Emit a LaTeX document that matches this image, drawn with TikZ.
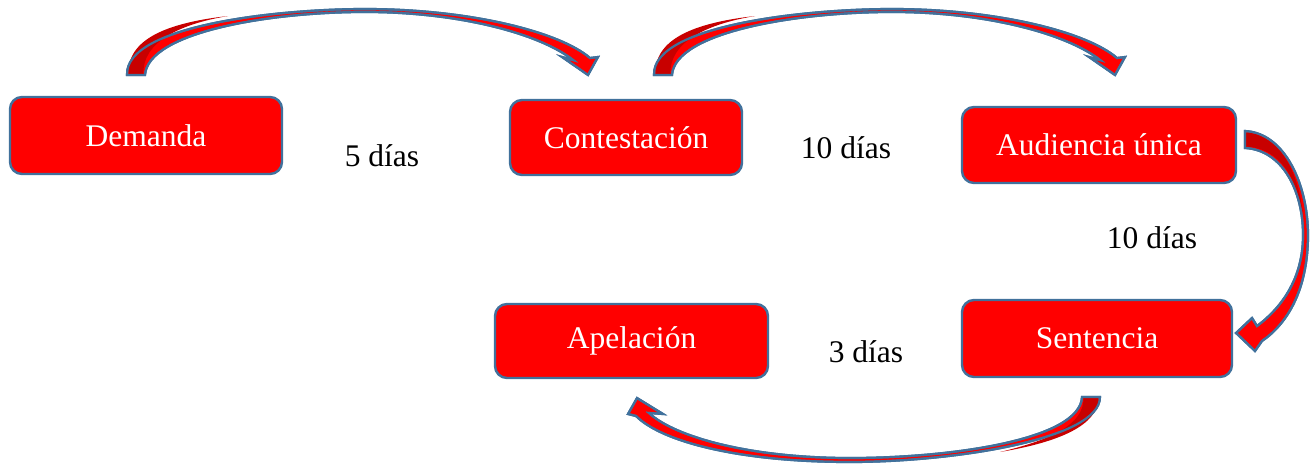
\documentclass[tikz,border=0pt]{standalone}
\usepackage{fontspec}
\setmainfont{Liberation Serif}
\definecolor{boxred}{RGB}{255,0,0}
\definecolor{darkred}{RGB}{200,0,0}
\definecolor{edgeblue}{RGB}{65,113,156}
\tikzset{
  stepbox/.style={draw=edgeblue, line width=2.4pt, fill=boxred, rounded corners=12pt,
    text=white, font=\fontsize{31.5}{35}\selectfont, inner sep=0pt},
  lbl/.style={font=\fontsize{31.5}{35}\selectfont, text=black, inner sep=0pt},
  arrowfill/.style={fill=boxred, draw=edgeblue, line width=2.2pt, line join=miter},
  tailfill/.style={fill=darkred}
}
\begin{document}
\begin{tikzpicture}[x=1pt,y=-1pt]
\useasboundingbox (0,0) rectangle (1313,464);

% boxes
\node[stepbox, minimum width=272pt, minimum height=77pt] (dem) at (146,135.5) {Demanda};
\node[stepbox, minimum width=232pt, minimum height=75pt] (con) at (626,137.5) {Contestación};
\node[stepbox, minimum width=274pt, minimum height=76pt] (aud) at (1099,145) {Audiencia única};
\node[stepbox, minimum width=270pt, minimum height=77pt] (sen) at (1097,338.5) {Sentencia};
\node[stepbox, minimum width=273pt, minimum height=74pt] (ape) at (631.5,341) {Apelación};

% labels
\node[lbl] (l1) at (382,156) {5 días};
\node[lbl] (l2) at (846,148) {10 días};
\node[lbl] (l3) at (1152,238) {10 días};
\node[lbl] (l4) at (866,352) {3 días};

% curved arrows 1 and 2 (Demanda -> Contestacion, Contestacion -> Audiencia)
\foreach \dx in {0,527}{
\begin{scope}[xshift=\dx]
\path[arrowfill] (127,75) .. controls (125,25) and (280,9) .. (365,9)
   .. controls (470,9) and (560,32) .. (590,58)
   -- (598,57) -- (588,75) -- (562,57) -- (573,60)
   .. controls (540,34) and (460,12) .. (365,12)
   .. controls (270,12) and (148,32) .. (145,75) -- cycle;
\fill[tailfill] (128.5,74) .. controls (127,36) and (175,22) .. (228,16)
   .. controls (180,24) and (142,42) .. (143.5,74) -- cycle;
\draw[edgeblue, line width=2.2pt, line join=miter] (127,75) .. controls (125,25) and (280,9) .. (365,9)
   .. controls (470,9) and (560,32) .. (590,58)
   -- (598,57) -- (588,75) -- (562,57) -- (573,60)
   .. controls (540,34) and (460,12) .. (365,12)
   .. controls (270,12) and (148,32) .. (145,75) -- cycle;
\end{scope}}

% curved arrow 3 (Audiencia -> Sentencia)
\path[arrowfill] (1245,131) .. controls (1285,133) and (1308,185) .. (1308,235)
   .. controls (1308,290) and (1287,324) .. (1262,341)
   -- (1255,351) -- (1236,333) -- (1252,318) -- (1257,326)
   .. controls (1285,305) and (1303,275) .. (1303,235)
   .. controls (1303,190) and (1282,150) .. (1245,148) -- cycle;
\fill[tailfill] (1246,132.5) .. controls (1275,134) and (1298,165) .. (1303,215)
   .. controls (1295,170) and (1275,148) .. (1246,146.5) -- cycle;
\draw[edgeblue, line width=2.2pt, line join=miter] (1245,131) .. controls (1285,133) and (1308,185) .. (1308,235)
   .. controls (1308,290) and (1287,324) .. (1262,341)
   -- (1255,351) -- (1236,333) -- (1252,318) -- (1257,326)
   .. controls (1285,305) and (1303,275) .. (1303,235)
   .. controls (1303,190) and (1282,150) .. (1245,148) -- cycle;

% curved arrow 4 (Sentencia -> Apelacion)
\path[arrowfill] (1100,397) .. controls (1100,440) and (950,462) .. (850,462)
   .. controls (740,462) and (662,442) .. (636,416)
   -- (628,414) -- (637,398) -- (663,414) -- (649,413)
   .. controls (675,437) and (750,458) .. (850,458)
   .. controls (950,458) and (1080,440) .. (1082,397) -- cycle;
\fill[tailfill] (1098.5,398) .. controls (1098,425) and (1060,442) .. (1000,452)
   .. controls (1050,440) and (1084,425) .. (1083.5,398) -- cycle;
\draw[edgeblue, line width=2.2pt, line join=miter] (1100,397) .. controls (1100,440) and (950,462) .. (850,462)
   .. controls (740,462) and (662,442) .. (636,416)
   -- (628,414) -- (637,398) -- (663,414) -- (649,413)
   .. controls (675,437) and (750,458) .. (850,458)
   .. controls (950,458) and (1080,440) .. (1082,397) -- cycle;
\end{tikzpicture}
\end{document}
